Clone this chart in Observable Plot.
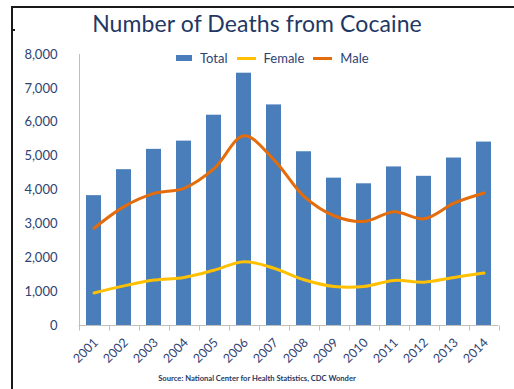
<!DOCTYPE html>
<html>
<head>
<meta charset="utf-8">
<script src="https://cdn.jsdelivr.net/npm/d3@7"></script>
<script src="https://cdn.jsdelivr.net/npm/@observablehq/plot@0.6"></script>
<style>
  body { margin: 0; background: #fff; font-family: Lato, "Open Sans", sans-serif; }
  #wrap { position: relative; width: 514px; height: 389px; overflow: hidden; background: #fff; }
  #chart { position: absolute; left: 0; top: 0; }
  #frame { position: absolute; left: 11px; top: 6px; width: 520px; height: 400px;
           border-top: 2px solid #1a1a1a; border-left: 2px solid #1a1a1a; box-sizing: border-box; }
  #nick { position: absolute; left: 12px; top: 29px; width: 3px; height: 2px; background: #1a1a1a; }
  #title { position: absolute; left: 0; width: 514px; top: 9px; text-align: center;
           font-size: 23px; color: #1F3864; letter-spacing: 0.1px; }
  #legend { position: absolute; left: 176px; top: 50px; display: flex; align-items: center;
            font-size: 13px; color: #2E4272; }
  #legend .item { display: flex; align-items: center; margin-right: 9px; }
  #legend .sw { display: inline-block; margin-right: 8px; }
  #source { position: absolute; left: 0; width: 514px; top: 373px; text-align: center;
            font-size: 7.6px; font-weight: bold; color: #1F3864; }
</style>
</head>
<body>
<div id="wrap">
  <div id="chart"></div>
  <div id="frame"></div>
  <div id="nick"></div>
  <div id="title">Number of Deaths from Cocaine</div>
  <div id="legend"></div>
  <div id="source">Source: National Center for Health Statistics, CDC Wonder</div>
</div>
<script>
// Cocaine overdose deaths by year
const years  = ["2001","2002","2003","2004","2005","2006","2007","2008","2009","2010","2011","2012","2013","2014"];
const total  = [3833, 4600, 5200, 5443, 6208, 7448, 6512, 5129, 4350, 4183, 4681, 4404, 4944, 5415];
const female = [960, 1170, 1340, 1420, 1630, 1880, 1690, 1350, 1150, 1150, 1330, 1280, 1420, 1550];
const male   = [2870, 3510, 3900, 4050, 4630, 5600, 4890, 3810, 3240, 3070, 3360, 3150, 3610, 3910];
const yTicks = [0, 1000, 2000, 3000, 4000, 5000, 6000, 7000, 8000];

const series = [
  {name: "Total",  color: "#4A7EBB", kind: "bar"},
  {name: "Female", color: "#FFC000", kind: "line"},
  {name: "Male",   color: "#E46C0A", kind: "line"}
];

const rows = years.map((y, i) => ({year: y, total: total[i], female: female[i], male: male[i]}));

// Excel-style category axis: line along zero, ticks between categories, vertical value axis line
function categoryAxis(index, scales, values, dimensions) {
  const x = scales.x, y = scales.y;
  const bw = typeof x.bandwidth === "function" ? x.bandwidth() : (x.bandwidth || 0);
  const step = x(years[1]) - x(years[0]);
  const start = x(years[0]) - (step - bw) / 2;
  const g = d3.create("svg:g").attr("stroke", "#BFBFBF").attr("stroke-width", 1);
  const y0 = Math.round(y(0)) + 0.5;
  const right = start + step * years.length;
  g.append("line").attr("x1", start).attr("x2", right).attr("y1", y0).attr("y2", y0);
  g.append("line").attr("x1", Math.round(start) + 0.5).attr("x2", Math.round(start) + 0.5)
    .attr("y1", y(yTicks[yTicks.length - 1])).attr("y2", y0);
  for (let i = 0; i <= years.length; i++) {
    const xx = Math.round(start + step * i) + 0.5;
    g.append("line").attr("x1", xx).attr("x2", xx).attr("y1", y0).attr("y2", y0 + 5);
  }
  return g.node();
}

const plot = Plot.plot({
  width: 514,
  height: 389,
  marginTop: 54,
  marginBottom: 64,
  marginLeft: 67,
  marginRight: 5,
  style: {fontFamily: "Lato, 'Open Sans', sans-serif", background: "transparent"},
  x: {type: "band", domain: years, padding: 0.5, label: null},
  y: {domain: [0, 8000], label: null},
  marks: [
    Plot.axisY({ticks: yTicks, tickFormat: d3.format(","), tickSize: 0, tickPadding: 10,
                fontSize: 13, color: "#2E4272", label: null}),
    Plot.axisX({tickSize: 0, tickRotate: -45, tickPadding: 15, dx: 2, fontSize: 12.5, color: "#2E4272",
                label: null}),
    Plot.barY(rows, {x: "year", y: "total", fill: series[0].color}),
    categoryAxis,
    Plot.lineY(rows, {x: "year", y: "female", stroke: series[1].color, strokeWidth: 3, curve: "catmull-rom"}),
    Plot.lineY(rows, {x: "year", y: "male", stroke: series[2].color, strokeWidth: 3, curve: "catmull-rom"})
  ]
});
document.getElementById("chart").appendChild(plot);

// Legend
const legend = document.getElementById("legend");
for (const s of series) {
  const item = document.createElement("div");
  item.className = "item";
  const sw = document.createElement("span");
  sw.className = "sw";
  if (s.kind === "bar") { sw.style.width = "16px"; sw.style.height = "6px"; }
  else { sw.style.width = "19px"; sw.style.height = "3px"; }
  sw.style.background = s.color;
  const label = document.createElement("span");
  label.textContent = s.name;
  item.appendChild(sw);
  item.appendChild(label);
  legend.appendChild(item);
}
</script>
</body>
</html>
